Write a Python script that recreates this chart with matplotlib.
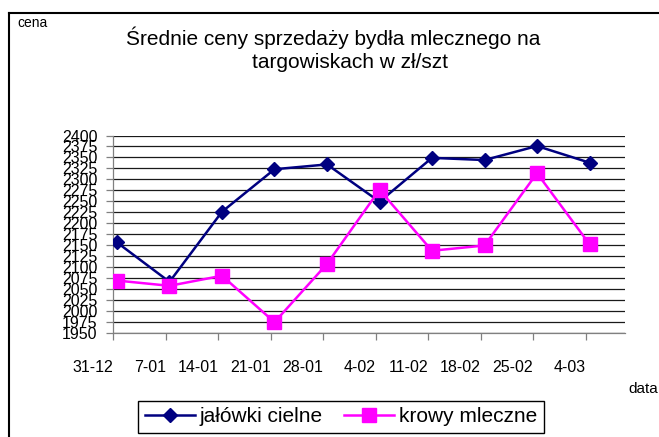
import matplotlib
matplotlib.use("Agg")
import matplotlib.pyplot as plt
from matplotlib.lines import Line2D

plt.rcParams["font.family"] = ["Liberation Sans", "DejaVu Sans"]

# weekly market prices, zł per head
dates = ["31-12", "7-01", "14-01", "21-01", "28-01",
         "4-02", "11-02", "18-02", "25-02", "4-03"]
jalowki = [2156, 2066, 2226, 2323, 2334, 2249, 2349, 2344, 2376, 2338]
krowy = [2069, 2057, 2080, 1974, 2107, 2276, 2137, 2149, 2314, 2152]
y_ticks = list(range(1950, 2401, 25))

NAVY = "#000080"
MAGENTA = "#FF00FF"

W, H = 659, 437
fig = plt.figure(figsize=(W / 100, H / 100), dpi=100)
fig.patch.set_facecolor("white")

# plot area in pixel terms of the reference
ax = fig.add_axes([113 / W, (H - 332.7) / H, (625 - 113) / W, (332.7 - 135.5) / H])

x = list(range(len(dates)))
ax.plot(x, jalowki, color=NAVY, lw=1.8, marker="D", ms=7.6,
        label="jałówki cielne", zorder=3)
ax.plot(x, krowy, color=MAGENTA, lw=1.8, marker="s", ms=10,
        label="krowy mleczne", zorder=3)

ax.set_xlim(-0.076, len(dates) - 0.324)
ax.set_ylim(y_ticks[0], y_ticks[-1])

ax.set_yticks(y_ticks)
ax.set_yticklabels([str(v) for v in y_ticks], fontsize=11.5)
ax.set_xticks([i - 0.07 for i in x])
ax.set_xticklabels(dates, fontsize=11.5, ha="right")

ax.yaxis.grid(True, color="#1a1a1a", lw=0.9)
ax.set_axisbelow(True)
ax.tick_params(axis="y", length=5, width=0.9, color="#808080", pad=6)
ax.tick_params(axis="x", length=5, width=0.9, color="#808080", pad=15)
for s in ["top", "right"]:
    ax.spines[s].set_visible(False)
for s in ["left", "bottom"]:
    ax.spines[s].set_color("#808080")
    ax.spines[s].set_linewidth(0.9)

# titles and axis captions
fig.text(333 / W, 1 - 45 / H, "Średnie ceny sprzedaży bydła mlecznego na",
         ha="center", va="baseline", fontsize=15)
fig.text(350 / W, 1 - 68 / H, "targowiskach w zł/szt",
         ha="center", va="baseline", fontsize=15)
fig.text(17 / W, 1 - 27 / H, "cena", va="baseline", fontsize=10)
fig.text(628 / W, 1 - 393 / H, "data", va="baseline", fontsize=11)

leg = fig.legend(loc="center", bbox_to_anchor=(341 / W, 1 - 417 / H), ncol=2,
                 frameon=True, fancybox=False, edgecolor="black", framealpha=1,
                 fontsize=15, handlelength=2.4, handletextpad=0.25,
                 columnspacing=1.0, borderpad=0.3, borderaxespad=0)
leg.get_frame().set_linewidth(1.0)

# chart border (top and left edges only visible in the crop)
fig.add_artist(Line2D([9 / W, 1], [1 - 12.7 / H] * 2, transform=fig.transFigure,
                      color="black", lw=1.5))
fig.add_artist(Line2D([9 / W] * 2, [0, 1 - 12.7 / H], transform=fig.transFigure,
                      color="black", lw=1.5))

fig.savefig("out.png", dpi=100)
